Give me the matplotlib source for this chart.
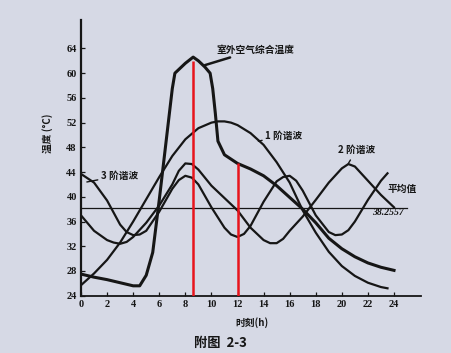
import matplotlib
matplotlib.use("Agg")
import matplotlib.pyplot as plt

plt.rcParams['font.family'] = ['Noto Sans CJK SC', 'DejaVu Sans']

# ---- data ----
outdoor_h = [0, 1, 2, 3, 4, 4.5, 5, 5.5, 6, 6.5, 7, 7.2, 8, 8.6, 9, 9.5, 9.9, 10.1, 10.3, 10.5, 11,
             12, 13, 14, 15, 16, 17, 18, 19, 20, 21, 22, 23, 24]
outdoor_t = [27.5, 27.0, 26.6, 26.1, 25.6, 25.6, 27.3, 31.0, 39.5, 48.5, 57.5, 60.0, 61.6, 62.6, 62.0,
             61.0, 60.0, 57.5, 53.5, 49.0, 46.8, 45.4, 44.5, 43.4, 41.8, 39.9, 38.0, 35.8, 33.3, 31.6,
             30.3, 29.3, 28.6, 28.1]

h1_h = [0, 1, 2, 3, 4, 5, 6, 7, 8, 9, 10, 10.5, 11, 11.5, 12, 13, 14, 15, 16, 17, 18, 19, 20, 21,
        22, 23, 23.5]
h1_t = [25.7, 27.6, 29.8, 32.6, 36.0, 39.6, 43.2, 46.6, 49.3, 51.1, 52.0, 52.2, 52.2, 52.0, 51.6,
        50.3, 48.4, 45.6, 42.3, 37.8, 34.2, 31.1, 28.8, 27.2, 26.1, 25.4, 25.2]

h2_h = [0, 1, 2, 2.5, 3, 3.5, 4, 5, 6, 7, 7.5, 8, 8.5, 9, 10, 11, 12, 13, 14, 14.5, 15, 15.5, 16,
        17, 18, 19, 20, 20.5, 21, 22, 23, 24]
h2_t = [37.0, 34.5, 33.0, 32.6, 32.4, 32.7, 33.5, 35.8, 38.6, 42.0, 44.2, 45.4, 45.3, 44.4, 41.8,
        39.8, 37.8, 35.0, 33.0, 32.5, 32.5, 33.2, 34.5, 36.8, 39.5, 42.3, 44.6, 45.3, 44.9, 42.6,
        40.3, 38.3]

h3_h = [0, 1, 2, 3, 3.5, 4, 4.5, 5, 6, 7, 7.5, 8, 8.5, 9, 10, 11, 11.5, 12, 12.5, 13, 14, 15,
        15.5, 16, 16.5, 17, 18, 19, 19.5, 20, 20.5, 21, 22, 23, 23.5]
h3_t = [43.7, 42.3, 39.4, 35.5, 34.3, 33.8, 33.9, 34.5, 37.6, 41.3, 42.7, 43.4, 43.1, 42.0, 38.3,
        35.0, 33.9, 33.5, 34.0, 35.3, 39.2, 42.5, 43.2, 43.4, 42.6, 41.0, 37.0, 34.3, 33.8, 33.9,
        34.6, 36.0, 39.5, 42.6, 43.8]

mean_value = 38.2557
mean_span = [0, 25]

red_x = [8.6, 12.0]
red_top = [62.0, 45.5]

x_ticks = list(range(0, 25, 2))
y_ticks = list(range(24, 65, 4))

# ---- figure ----
bg = '#d6d9e5'
ink = '#161616'
fig = plt.figure(figsize=(4.52, 3.53), dpi=100, facecolor=bg)
ax = fig.add_axes([0.1792, 0.1623, 0.7531, 0.781])
ax.set_facecolor(bg)
ax.set_xlim(0, 26.1)
ax.set_ylim(24, 68.6)

ax.plot(mean_span, [mean_value, mean_value], color=ink, lw=0.9)
ax.plot(h1_h, h1_t, color=ink, lw=1.6, solid_joinstyle='round')
ax.plot(h2_h, h2_t, color=ink, lw=1.6, solid_joinstyle='round')
ax.plot(h3_h, h3_t, color=ink, lw=1.6, solid_joinstyle='round')
ax.plot(outdoor_h, outdoor_t, color=ink, lw=2.2, solid_joinstyle='round')

ax.vlines(red_x, 24, red_top, colors='#e8141c', lw=1.8, zorder=5)

for s in ['top', 'right']:
    ax.spines[s].set_visible(False)
for s in ['left', 'bottom']:
    ax.spines[s].set_color(ink)
ax.spines['left'].set_linewidth(1.6)
ax.spines['bottom'].set_linewidth(1.3)

tfont = dict(family=['Liberation Serif', 'DejaVu Serif'], weight='bold', size=7.5)
ax.set_xticks(x_ticks)
ax.set_xticklabels([str(v) for v in x_ticks], **tfont)
ax.set_yticks(y_ticks)
ax.set_yticklabels([str(v) for v in y_ticks], **tfont)
ax.tick_params(direction='in', length=3, width=0.9, colors=ink, pad=3)

cfont = dict(weight='bold', size=7, color=ink)
# annotations with leader lines
ax.annotate('室外空气综合温度', xy=(9.5, 61.3), xytext=(10.4, 63.8), ha='left', va='center',
            arrowprops=dict(arrowstyle='-', color=ink, lw=1.8, shrinkA=0, shrinkB=0), **cfont)
ax.annotate('1 阶谐波', xy=(13.6, 49.0), xytext=(14.1, 49.9), ha='left', va='center',
            arrowprops=dict(arrowstyle='-', color=ink, lw=1.0, shrinkA=0, shrinkB=0), **cfont)
ax.annotate('2 阶谐波', xy=(20.5, 45.4), xytext=(19.7, 47.6), ha='left', va='center',
            arrowprops=dict(arrowstyle='-', color=ink, lw=1.0, shrinkA=2, shrinkB=0), **cfont)
ax.annotate('3 阶谐波', xy=(0.45, 42.4), xytext=(1.5, 43.4), ha='left', va='center',
            arrowprops=dict(arrowstyle='-', color=ink, lw=1.0, shrinkA=0, shrinkB=0), **cfont)
ax.text(23.5, 41.3, '平均值', ha='left', va='center', **cfont)
ax.text(22.3, 37.4, f'{mean_value:.4f}', ha='left', va='center',
        family=['Liberation Serif', 'DejaVu Serif'], weight='bold', style='italic', size=7, color=ink)

fig.text(48 / 452, 1 - 133 / 353, '温度 (°C)', rotation=90, ha='center', va='center',
         weight='bold', size=7, color=ink)
fig.text(252 / 452, 1 - 322.5 / 353, '时刻(h)', ha='center', va='center',
         weight='bold', size=7, color=ink)
fig.text(220 / 452, 1 - 343 / 353, '附图  2-3', ha='center', va='center',
         weight='bold', size=9.5, color=ink)

fig.savefig('out.png', dpi=100, facecolor=bg)
